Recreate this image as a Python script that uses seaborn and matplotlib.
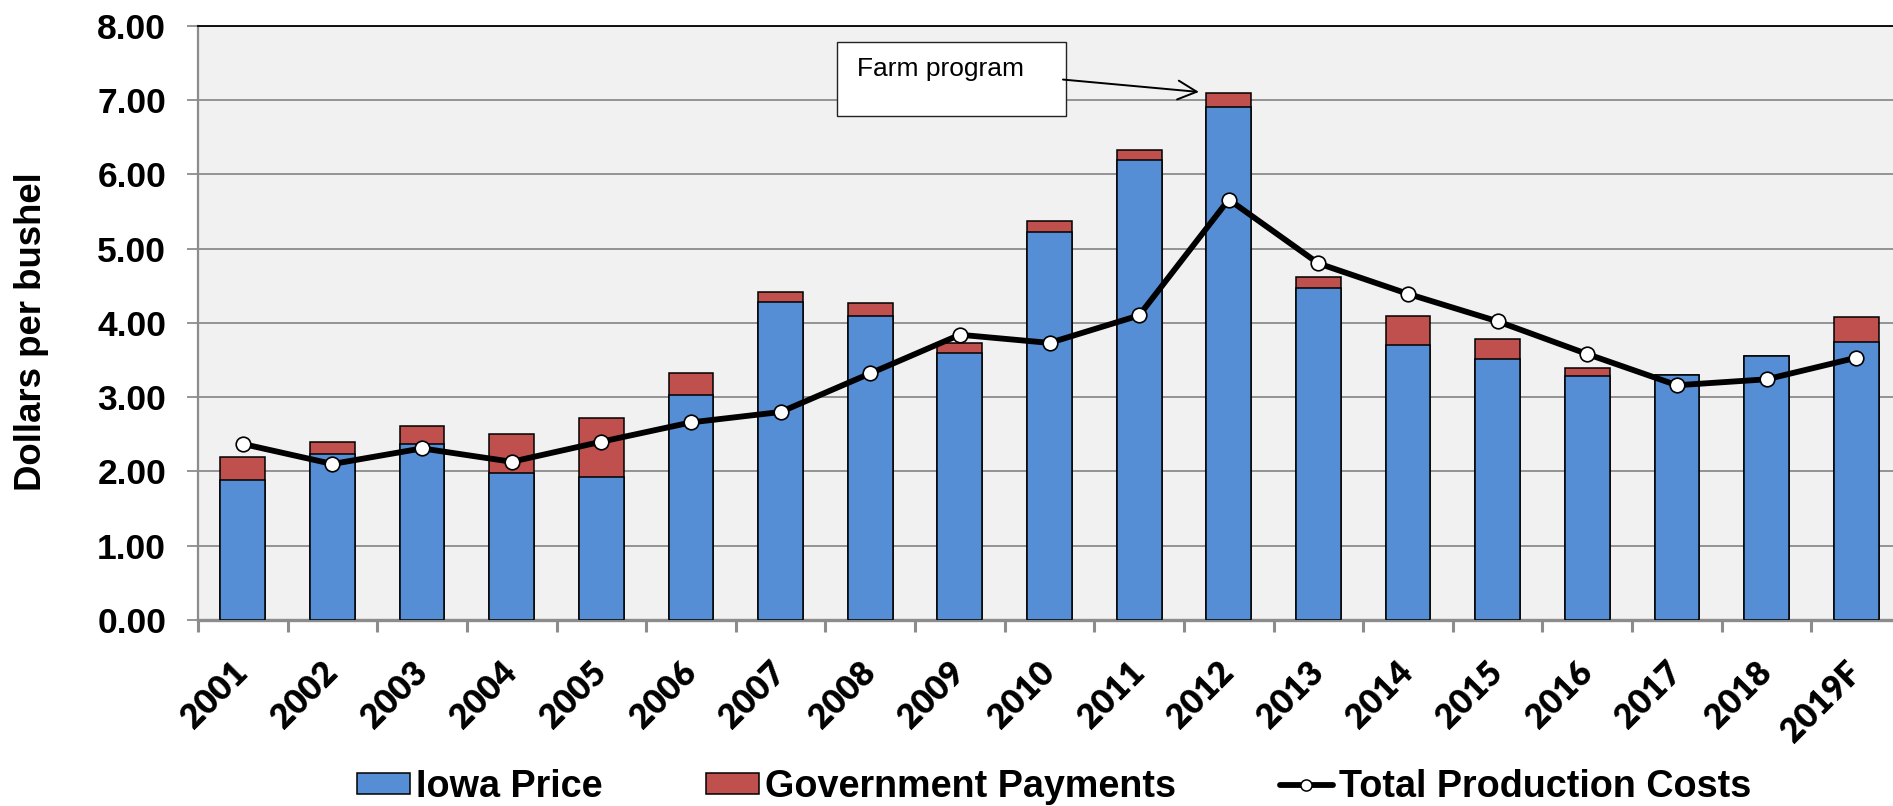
import numpy as np
import pandas as pd
import matplotlib
matplotlib.use('Agg')
import matplotlib.pyplot as plt
import seaborn as sns
from matplotlib.patches import Rectangle, Patch
from matplotlib.lines import Line2D
from matplotlib.ticker import MultipleLocator, FuncFormatter

# ---- data ----
years = ['2001', '2002', '2003', '2004', '2005', '2006', '2007', '2008', '2009', '2010',
         '2011', '2012', '2013', '2014', '2015', '2016', '2017', '2018', '2019F']
iowa_price = [1.89, 2.24, 2.37, 1.98, 1.93, 3.03, 4.28, 4.09, 3.59, 5.22,
              6.19, 6.91, 4.47, 3.70, 3.51, 3.29, 3.30, 3.55, 3.74]
gov_payments = [0.31, 0.15, 0.24, 0.53, 0.79, 0.30, 0.14, 0.18, 0.14, 0.15,
                0.14, 0.19, 0.15, 0.39, 0.27, 0.10, 0.00, 0.01, 0.34]
production_costs = [2.37, 2.10, 2.31, 2.13, 2.40, 2.66, 2.80, 3.32, 3.84, 3.73,
                    4.10, 5.66, 4.80, 4.39, 4.02, 3.58, 3.16, 3.24, 3.53]
series_labels = ['Iowa Price', 'Government Payments', 'Total Production Costs']
annotation_text = 'Farm program'
y_label = 'Dollars per bushel'

sns.set_style('white')
plt.rcParams['font.family'] = ['Liberation Sans', 'DejaVu Sans']
plt.rcParams['text.color'] = 'black'
plt.rcParams['xtick.labelcolor'] = 'black'
plt.rcParams['ytick.labelcolor'] = 'black'
plt.rcParams['axes.labelcolor'] = 'black'

W, H, DPI = 1893, 806, 100
fig = plt.figure(figsize=(W / DPI, H / DPI), dpi=DPI)
ax = fig.add_axes([198 / W, (H - 620) / H, 1703 / W, 594.3 / H])

df = pd.DataFrame({'year': years, 'price': iowa_price, 'gov': gov_payments,
                   'cost': production_costs})
df['total'] = df['price'] + df['gov']

BLUE = '#558ed5'
RED = '#c0504d'
GRAY = '#8c8c8c'

sns.barplot(data=df, x='year', y='total', color=RED, saturation=1, width=0.5,
            edgecolor='black', linewidth=1.1, ax=ax, zorder=2)
sns.barplot(data=df, x='year', y='price', color=BLUE, saturation=1, width=0.5,
            edgecolor='black', linewidth=1.1, ax=ax, zorder=3)
sns.pointplot(data=df, x='year', y='cost', color='black', markers='o',
              markersize=10.5, markerfacecolor='white', markeredgecolor='black',
              markeredgewidth=1.2, linewidth=4.2, errorbar=None, ax=ax, zorder=5)

ax.set_xlim(-0.5, len(years) - 0.5)
ax.set_ylim(0, 8)
ax.set_facecolor('#f1f1f1')
ax.set_xlabel('')
ax.set_ylabel('')

ax.yaxis.set_major_locator(MultipleLocator(1))
ax.yaxis.set_major_formatter(FuncFormatter(lambda v, p: f'{v:.2f}'))
ax.grid(axis='y', color=GRAY, lw=1.3)
ax.grid(axis='x', visible=False)
ax.set_axisbelow(True)

ax.spines['left'].set_color(GRAY)
ax.spines['left'].set_linewidth(1.6)
ax.spines['bottom'].set_color(GRAY)
ax.spines['bottom'].set_linewidth(2.4)
ax.spines['top'].set_color('black')
ax.spines['top'].set_linewidth(1.3)
ax.spines['right'].set_visible(False)

# y ticks
ax.tick_params(axis='y', which='major', length=7.9, width=1.3, color=GRAY,
               pad=15, left=True, labelcolor='black')
for lab in ax.get_yticklabels():
    lab.set_fontsize(25.5)
    lab.set_fontweight('bold')
    lab.set_family(['Liberation Sans', 'DejaVu Sans'])

# x ticks: labels at centres, tick marks between categories
ax.set_xticks(np.arange(len(years)))
ax.set_xticklabels(years)
ax.set_xticks(np.arange(-0.5, len(years) + 0.5, 1), minor=True)
ax.tick_params(axis='x', which='major', length=0, pad=34, bottom=True, labelcolor='black')
ax.tick_params(axis='x', which='minor', length=8.5, width=2.2, color=GRAY, bottom=True)
for lab in ax.get_xticklabels():
    lab.set_fontsize(24.5)
    lab.set_fontweight('heavy')
    lab.set_family(['Lato', 'DejaVu Sans'])
    lab.set_rotation(45)
    lab.set_ha('right')
    lab.set_va('center')
    lab.set_rotation_mode('anchor')

# y label
fig.text(31.5 / W, (H - 332) / H, y_label, rotation=90, ha='center', va='center',
         fontsize=26.4, fontweight='bold', color='black',
         family=['Liberation Sans', 'DejaVu Sans'])

# annotation box + arrow
ax.add_patch(Rectangle((0.375, 0.8486), 0.1347, 0.1235, transform=ax.transAxes,
                       facecolor='white', edgecolor='#222222', lw=1.0, zorder=6))
ax.text(0.3868, 0.927, annotation_text, transform=ax.transAxes, fontsize=19,
        ha='left', va='center', color='black', zorder=7)
ax.annotate('', xy=(10.667, 7.108), xytext=(9.15, 7.275),
            arrowprops=dict(arrowstyle='->', lw=1.4, color='black',
                            shrinkA=0, shrinkB=0, mutation_scale=34),
            zorder=7)

# legend
handles = [
    Patch(facecolor=BLUE, edgecolor='black', lw=1.1, label=series_labels[0]),
    Patch(facecolor=RED, edgecolor='black', lw=1.1, label=series_labels[1]),
    Line2D([], [], color='black', lw=4.2, marker='o', markersize=8,
           markerfacecolor='white', markeredgecolor='black', markeredgewidth=1.1,
           label=series_labels[2]),
]
leg = fig.legend(handles=handles, loc='center', bbox_to_anchor=(1054 / W, (H - 787) / H),
                 ncol=3, frameon=False,
                 prop=dict(family=['Liberation Sans', 'DejaVu Sans'], weight='bold', size=27.2),
                 handlelength=1.4, handleheight=0.51, handletextpad=0.16,
                 columnspacing=2.75, borderpad=0, borderaxespad=0)
for t in leg.get_texts():
    t.set_color('black')

fig.savefig('out.png', dpi=DPI)
